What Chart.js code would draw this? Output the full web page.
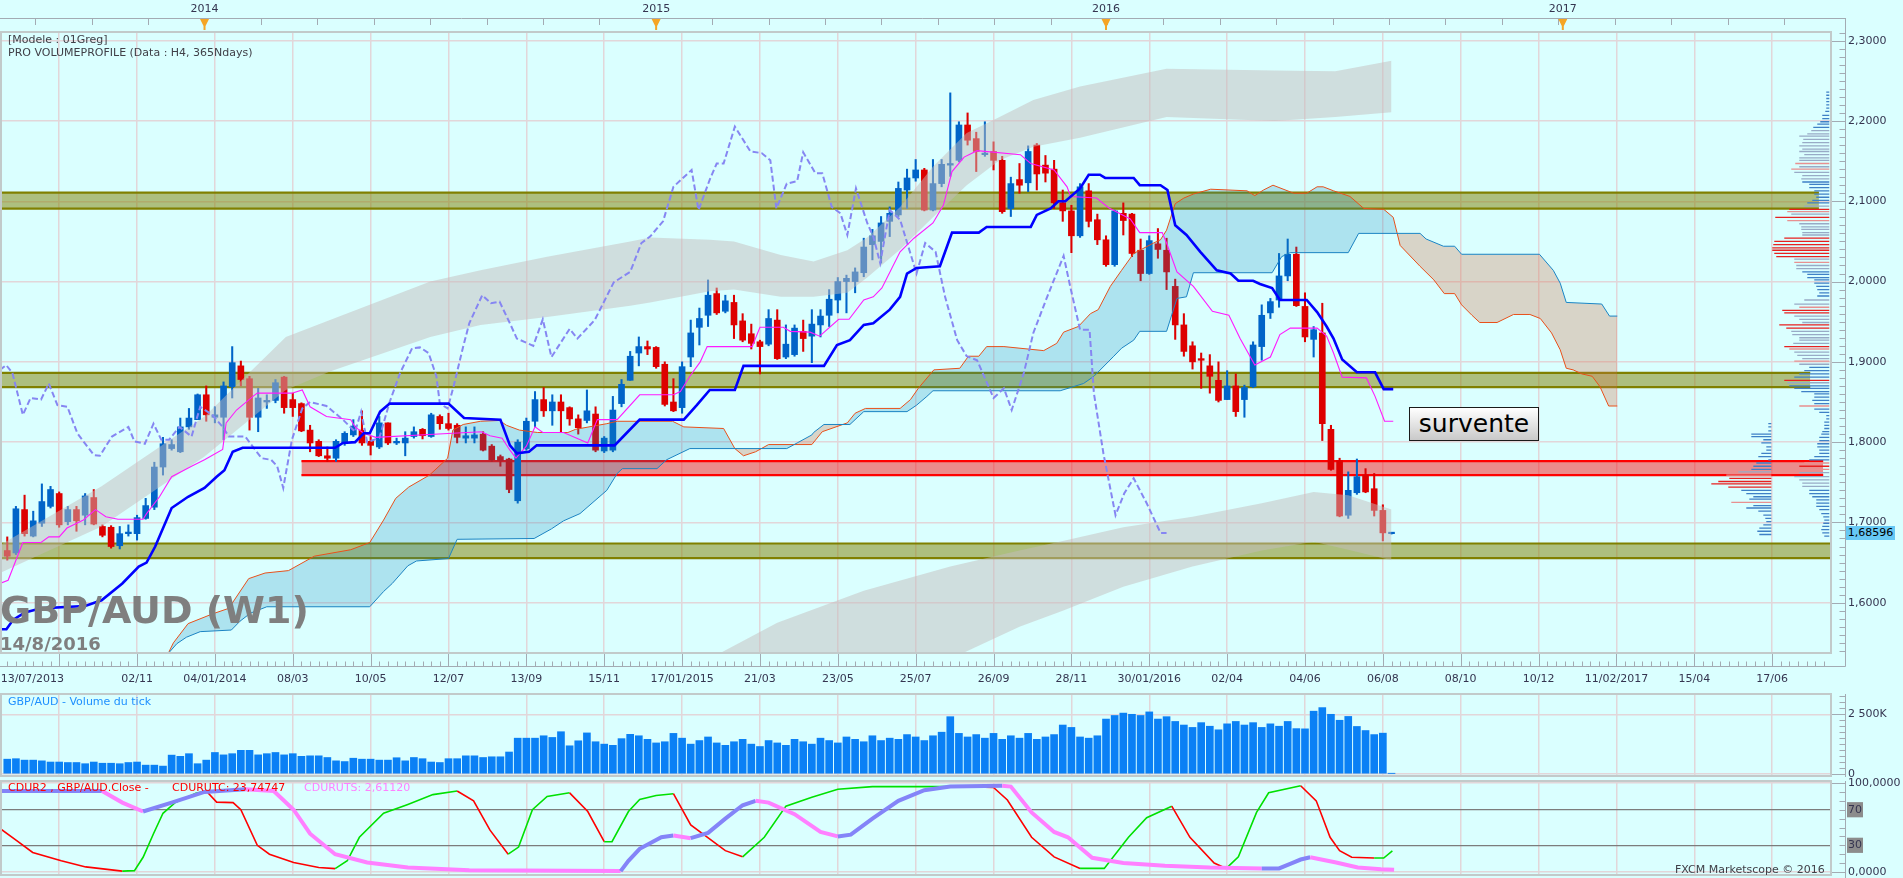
<!DOCTYPE html>
<html lang="fr">
<head>
<meta charset="UTF-8">
<title>GBP/AUD (W1)</title>
<style>
  body { margin: 0; width: 1903px; height: 878px; overflow: hidden; background: #daffff; position: relative; font-family: 'DejaVu Sans', sans-serif; }
  canvas { position: absolute; left: 0; }
  #main { top: 0; }
  #vol { top: 690px; }
  #osc { top: 778px; }
  .lbl { position: absolute; white-space: nowrap; font-size: 11px; line-height: 13px; color: #404048; }
  .pair { position: absolute; left: 0; top: 591px; font-weight: bold; font-size: 38px; line-height: 38px; color: #7f7f7f; white-space: nowrap; }
  .day { position: absolute; left: 0; top: 635px; font-weight: bold; font-size: 18px; line-height: 18px; color: #7f7f7f; }
  .survente { position: absolute; left: 1409px; top: 407px; width: 128px; height: 32px; border: 1px solid #1a1a1a; background: linear-gradient(#ffffff, #c9c9c9); font-size: 25px; line-height: 31px; text-align: center; color: #000; }
  .price { position: absolute; left: 1846px; top: 526px; width: 49px; height: 14px; background: #66c8f5; font-size: 11px; line-height: 14px; text-align: center; color: #000; }
</style>
</head>
<body>
<canvas id="main" width="1903" height="690"></canvas>
<canvas id="vol" width="1903" height="88"></canvas>
<canvas id="osc" width="1903" height="100"></canvas>

<div class="lbl" style="left:8px;top:33px">[Modele : 01Greg]</div>
<div class="lbl" style="left:8px;top:46px">PRO VOLUMEPROFILE (Data : H4, 365Ndays)</div>
<div class="pair">GBP/AUD (W1)</div>
<div class="day">14/8/2016</div>
<div class="survente">survente</div>
<div class="price">1,68596</div>
<div class="lbl" style="left:8px;top:695px;color:#1e90ff">GBP/AUD - Volume du tick</div>
<div class="lbl" style="left:8px;top:781px;color:#ff0000">CDUR2 , GBP/AUD.Close -</div>
<div class="lbl" style="left:172px;top:781px;color:#ff0000">CDURUTC: 23,74747</div>
<div class="lbl" style="left:304px;top:781px;color:#ff80ff">CDURUTS: 2,61120</div>
<div class="lbl" style="left:1675px;top:863px">FXCM Marketscope © 2016</div>

<script src="https://cdn.jsdelivr.net/npm/chart.js"></script>
<script>
// weekly candles, first one is week 1 (week 0 = 13/07/2013)
const FIRST_WEEK = 1;
const opens = [
  1.665,1.662,1.716,1.683,1.699,1.720,1.736,1.701,1.716,1.709,
  1.731,1.695,1.694,1.671,1.686,1.686,1.705,1.719,1.769,1.792,
  1.788,1.819,1.828,1.859,1.831,1.831,1.869,1.895,1.879,1.831,
  1.850,1.852,1.881,1.853,1.848,1.815,1.801,1.783,1.780,1.799,
  1.809,1.815,1.801,1.794,1.824,1.799,1.799,1.807,1.816,1.807,
  1.832,1.823,1.821,1.805,1.805,1.810,1.795,1.782,1.779,1.727,
  1.792,1.826,1.853,1.839,1.850,1.843,1.829,1.827,1.835,1.789,
  1.790,1.848,1.877,1.911,1.919,1.918,1.897,1.850,1.843,1.906,
  1.943,1.958,1.985,1.963,1.974,1.951,1.935,1.925,1.922,1.952,
  1.906,1.909,1.938,1.932,1.946,1.958,1.977,2.000,2.000,2.011,
  2.046,2.050,2.075,2.083,2.114,2.129,2.139,2.089,2.122,2.145,
  2.151,2.195,2.178,2.158,2.162,2.151,2.091,2.127,2.123,2.170,
  2.145,2.140,2.098,2.088,2.057,2.113,2.077,2.052,2.021,2.085,
  2.084,2.039,2.010,2.047,2.039,1.994,1.946,1.920,1.904,1.895,
  1.877,1.853,1.870,1.853,1.869,1.919,1.961,1.977,2.007,2.034,
  1.969,1.928,1.936,1.816,1.777,1.709,1.737,1.759,1.742,1.715,
  1.6860
];
const highs = [
  1.682,1.720,1.734,1.714,1.748,1.745,1.738,1.720,1.720,1.736,
  1.741,1.697,1.696,1.695,1.697,1.709,1.730,1.775,1.806,1.803,
  1.830,1.842,1.860,1.870,1.844,1.875,1.919,1.901,1.882,1.867,
  1.859,1.878,1.882,1.861,1.849,1.821,1.803,1.794,1.803,1.813,
  1.828,1.839,1.807,1.832,1.824,1.805,1.813,1.819,1.817,1.836,
  1.834,1.836,1.823,1.819,1.819,1.813,1.797,1.784,1.780,1.803,
  1.830,1.863,1.868,1.859,1.859,1.844,1.834,1.865,1.844,1.807,
  1.857,1.878,1.913,1.931,1.926,1.919,1.900,1.879,1.900,1.952,
  1.967,2.002,1.992,1.983,1.983,1.960,1.947,1.927,1.965,1.965,
  1.946,1.946,1.952,1.965,1.965,1.990,2.005,2.008,2.017,2.054,
  2.065,2.081,2.093,2.124,2.140,2.152,2.141,2.152,2.152,2.235,
  2.199,2.210,2.186,2.199,2.174,2.156,2.130,2.147,2.169,2.172,
  2.157,2.151,2.114,2.095,2.122,2.122,2.084,2.057,2.089,2.098,
  2.085,2.053,2.057,2.066,2.054,2.003,1.960,1.925,1.911,1.909,
  1.900,1.889,1.885,1.871,1.925,1.971,1.979,2.035,2.053,2.043,
  1.986,1.944,1.973,1.821,1.780,1.763,1.779,1.767,1.761,1.722,
  1.6870
];
const lows = [
  1.653,1.660,1.683,1.682,1.695,1.718,1.694,1.697,1.689,1.697,
  1.697,1.682,1.668,1.667,1.683,1.678,1.704,1.716,1.759,1.790,
  1.787,1.816,1.828,1.826,1.824,1.803,1.855,1.870,1.815,1.813,
  1.842,1.849,1.836,1.832,1.813,1.788,1.782,1.776,1.776,1.796,
  1.807,1.796,1.784,1.792,1.797,1.797,1.783,1.805,1.804,1.806,
  1.816,1.815,1.799,1.799,1.799,1.789,1.776,1.770,1.737,1.724,
  1.790,1.819,1.832,1.821,1.813,1.821,1.810,1.824,1.788,1.787,
  1.788,1.844,1.877,1.895,1.909,1.892,1.845,1.838,1.836,1.894,
  1.921,1.944,1.959,1.961,1.929,1.925,1.916,1.885,1.920,1.903,
  1.904,1.907,1.913,1.899,1.931,1.944,1.961,1.961,1.986,2.006,
  2.027,2.023,2.056,2.081,2.091,2.125,2.088,2.088,2.118,2.131,
  2.149,2.170,2.137,2.156,2.139,2.085,2.081,2.110,2.112,2.114,
  2.124,2.091,2.075,2.036,2.055,2.068,2.046,2.019,2.019,2.058,
  2.031,2.001,2.009,2.029,1.990,1.928,1.907,1.891,1.867,1.861,
  1.850,1.853,1.832,1.831,1.868,1.902,1.954,1.968,2.001,1.969,
  1.925,1.906,1.802,1.765,1.707,1.705,1.735,1.737,1.708,1.677,
  1.6855
];
const closes = [
  1.658,1.717,1.686,1.702,1.726,1.741,1.697,1.716,1.702,1.733,
  1.698,1.684,1.670,1.686,1.688,1.706,1.721,1.769,1.798,1.797,
  1.819,1.830,1.859,1.834,1.834,1.870,1.899,1.878,1.831,1.855,
  1.852,1.874,1.843,1.843,1.814,1.799,1.783,1.780,1.801,1.811,
  1.820,1.799,1.796,1.824,1.799,1.801,1.805,1.813,1.808,1.834,
  1.823,1.817,1.806,1.808,1.809,1.790,1.778,1.777,1.741,1.800,
  1.826,1.853,1.839,1.850,1.839,1.829,1.818,1.839,1.790,1.805,
  1.840,1.872,1.907,1.919,1.916,1.894,1.847,1.839,1.894,1.936,
  1.954,1.983,1.961,1.976,1.946,1.927,1.923,1.919,1.954,1.904,
  1.922,1.942,1.929,1.947,1.957,1.978,2.000,2.004,2.012,2.043,
  2.057,2.073,2.085,2.116,2.129,2.139,2.089,2.122,2.146,2.147,
  2.195,2.176,2.162,2.160,2.151,2.087,2.122,2.120,2.162,2.134,
  2.135,2.098,2.088,2.057,2.118,2.075,2.052,2.021,2.088,2.076,
  2.035,2.010,2.051,2.040,2.012,1.946,1.913,1.900,1.902,1.882,
  1.852,1.870,1.838,1.868,1.921,1.958,1.975,2.007,2.034,1.970,
  1.931,1.940,1.823,1.766,1.708,1.740,1.757,1.738,1.715,1.687,
  1.6862
];
// tick volume, millions
const volumes = [
  0.62,0.64,0.58,0.58,0.55,0.50,0.50,0.48,0.48,0.43,
  0.50,0.45,0.45,0.43,0.48,0.50,0.37,0.37,0.33,0.79,
  0.74,0.85,0.43,0.58,0.90,0.80,0.85,0.99,0.99,0.80,
  0.85,0.90,0.80,0.85,0.74,0.76,0.76,0.69,0.55,0.52,
  0.66,0.62,0.62,0.58,0.58,0.68,0.55,0.69,0.64,0.50,
  0.48,0.64,0.64,0.76,0.76,0.69,0.72,0.72,0.92,1.50,
  1.50,1.50,1.60,1.53,1.77,1.18,1.39,1.72,1.35,1.25,
  1.20,1.48,1.66,1.60,1.45,1.30,1.35,1.70,1.50,1.25,
  1.40,1.55,1.30,1.20,1.35,1.45,1.25,1.15,1.40,1.30,
  1.20,1.45,1.35,1.25,1.50,1.40,1.30,1.55,1.45,1.35,
  1.60,1.40,1.50,1.45,1.65,1.55,1.40,1.60,1.75,2.40,
  1.70,1.55,1.65,1.50,1.70,1.45,1.60,1.50,1.70,1.45,
  1.55,1.65,2.05,1.95,1.55,1.50,1.60,2.30,2.45,2.55,
  2.50,2.45,2.60,2.30,2.40,2.20,2.05,1.95,2.15,2.00,
  1.85,2.10,2.20,2.05,2.15,1.95,2.10,2.00,2.20,1.90,
  1.89,2.63,2.78,2.50,2.25,2.41,1.99,1.82,1.65,1.71,
  0.02
];

// ichimoku lines as [week, price]
const kijun = [[0.16,1.567],[0.9,1.567],[1.7,1.579],[3.05,1.588],[4.9,1.593],[8.25,1.595],[10,1.596],[11.9,1.603],[14.3,1.624],[16.2,1.645],[17.1,1.650],[18.1,1.670],[20,1.718],[21.9,1.732],[23.8,1.743],[25.2,1.757],[26.1,1.765],[27.06,1.788],[28.2,1.793],[38.9,1.793],[39.8,1.799],[41.2,1.800],[42.2,1.811],[42.9,1.811],[44.1,1.838],[45.2,1.848],[52,1.848],[53.8,1.830],[58,1.828],[59.1,1.796],[59.9,1.786],[61.3,1.788],[62.2,1.796],[71.2,1.796],[72.2,1.807],[74.1,1.828],[79.2,1.828],[80.7,1.846],[82.2,1.865],[85.1,1.865],[86.1,1.895],[95.4,1.895],[96.9,1.921],[98.4,1.927],[100,1.946],[101.1,1.948],[103,1.965],[104.2,1.981],[105,2.010],[106.1,2.017],[108.8,2.019],[109.6,2.043],[110.2,2.061],[113.3,2.061],[114.2,2.068],[119.3,2.068],[120,2.083],[121.6,2.091],[122.5,2.100],[123.3,2.100],[125,2.116],[126,2.133],[127.3,2.133],[127.9,2.129],[131.2,2.129],[131.9,2.120],[134.3,2.120],[135.1,2.114],[136,2.070],[137.3,2.058],[138.9,2.037],[140.8,2.014],[142.4,2.010],[143.3,2.001],[145,2.001],[145.8,1.997],[147.2,1.992],[148.1,1.977],[151.2,1.977],[152.4,1.962],[153.5,1.944],[154.3,1.929],[155.3,1.903],[157,1.887],[159.1,1.887],[160.1,1.866],[161.2,1.866]];
const tenkan = [[0.16,1.624],[1.1,1.628],[2,1.653],[2.8,1.675],[4.9,1.675],[5.8,1.682],[7,1.682],[7.9,1.693],[9.8,1.703],[11.2,1.716],[12.4,1.707],[13.8,1.704],[16.7,1.704],[17.1,1.711],[18.6,1.732],[20,1.757],[22.3,1.770],[23.8,1.778],[25.9,1.791],[26.3,1.824],[27.5,1.840],[29.4,1.857],[29.9,1.861],[33.9,1.861],[35.1,1.865],[36,1.844],[37.9,1.832],[40.7,1.828],[41.2,1.819],[42.2,1.811],[43.6,1.806],[52.5,1.811],[55.8,1.813],[56.8,1.808],[58.2,1.805],[59.1,1.790],[59.8,1.780],[61,1.795],[62,1.819],[62.9,1.812],[65.3,1.812],[68.1,1.799],[69.2,1.828],[71.5,1.828],[74.1,1.859],[78,1.859],[78.8,1.863],[79.9,1.882],[81.1,1.900],[81.9,1.919],[87.1,1.919],[88,1.943],[90.7,1.943],[91.5,1.938],[93.8,1.937],[94.9,1.932],[97.1,1.953],[98.3,1.953],[100,1.977],[101.1,1.981],[102.1,1.992],[104.2,2.037],[105.8,2.054],[108,2.073],[109.2,2.095],[110.2,2.137],[111.6,2.155],[113.1,2.163],[118.1,2.158],[119.3,2.147],[122,2.139],[123.5,2.118],[123.9,2.106],[126.9,2.104],[128.3,2.092],[130.8,2.078],[131.9,2.061],[134.5,2.061],[135,2.048],[136.2,2.012],[138.1,1.994],[140.3,1.963],[142.2,1.958],[143.5,1.929],[145.2,1.896],[147,1.906],[148.1,1.934],[149.3,1.942],[152.4,1.942],[153.5,1.932],[154.3,1.911],[155.3,1.881],[158.1,1.880],[159.1,1.857],[160.2,1.826],[161.2,1.826]];
const chikou = [[0.16,1.890],[0.87,1.896],[1.6,1.886],[2.8,1.834],[3.7,1.855],[4.9,1.853],[5.8,1.873],[6.8,1.846],[7.95,1.844],[9.1,1.811],[11,1.784],[11.7,1.783],[13.1,1.807],[15,1.819],[15.7,1.801],[16.9,1.798],[17.9,1.823],[18.8,1.803],[19.7,1.803],[20.9,1.819],[22.3,1.807],[23.3,1.844],[24.7,1.834],[25.9,1.819],[26.6,1.807],[28.5,1.807],[29.4,1.794],[30.4,1.780],[31.5,1.778],[32.2,1.770],[32.9,1.743],[33.9,1.803],[35.1,1.842],[36,1.850],[37.9,1.845],[39.8,1.828],[41.2,1.813],[41.9,1.838],[42.6,1.800],[44,1.805],[45.2,1.850],[46.4,1.886],[47.8,1.917],[48.7,1.918],[49.7,1.911],[50.6,1.882],[51,1.848],[51.9,1.842],[52.6,1.870],[53.7,1.919],[54.4,1.948],[55.9,1.983],[56.9,1.973],[57.9,1.975],[59.1,1.948],[59.9,1.929],[61.8,1.920],[62.9,1.953],[63.9,1.906],[66,1.941],[66.9,1.929],[68.9,1.952],[71.1,1.999],[73,2.012],[74.3,2.048],[75.3,2.056],[76.8,2.075],[78,2.118],[80.1,2.139],[80.9,2.089],[82.2,2.127],[83,2.147],[83.8,2.147],[85.1,2.193],[86.9,2.162],[88.2,2.160],[89.2,2.151],[89.9,2.091],[91.1,2.122],[92.3,2.125],[93,2.161],[94.4,2.135],[95.2,2.135],[96.3,2.093],[97.3,2.085],[98.1,2.058],[99.1,2.116],[100.4,2.073],[101.1,2.056],[101.9,2.023],[103,2.089],[104.2,2.077],[106.1,2.010],[107.1,2.048],[108.3,2.037],[109.4,1.981],[110.8,1.927],[111.9,1.907],[113.1,1.902],[115,1.855],[116.2,1.867],[117.1,1.840],[118.5,1.886],[119.6,1.936],[121.2,1.981],[123.1,2.032],[123.9,1.992],[125,1.940],[126.1,1.940],[126.6,1.861],[127.7,1.786],[129.1,1.709],[130.1,1.736],[131.2,1.755],[132.7,1.724],[134.3,1.687],[135,1.687]];
const senkouA = [[18.5,1.515],[19.7,1.539],[20.2,1.550],[21.9,1.574],[24.7,1.586],[26.6,1.593],[28.9,1.630],[30.8,1.637],[33.5,1.640],[36.5,1.658],[40.7,1.666],[42.9,1.675],[44.5,1.703],[45.9,1.730],[47.4,1.744],[49.8,1.759],[51.9,1.780],[52.5,1.815],[53.7,1.822],[55.7,1.826],[57.9,1.827],[58.7,1.821],[60.2,1.815],[62.3,1.812],[65.8,1.812],[66.7,1.816],[70.3,1.823],[71.5,1.826],[77.9,1.826],[79.2,1.819],[83.8,1.817],[85.1,1.792],[86.1,1.783],[87.5,1.788],[89,1.797],[94,1.797],[95.2,1.813],[98.1,1.824],[99,1.836],[100.2,1.842],[104.2,1.842],[105.4,1.853],[106.3,1.867],[108.1,1.890],[111.1,1.892],[112.1,1.907],[113.3,1.907],[114.2,1.919],[116.2,1.919],[120.8,1.914],[122.3,1.923],[123.1,1.937],[124.8,1.944],[126.2,1.960],[127.1,1.965],[128.5,1.994],[129.8,2.014],[131.2,2.035],[133.5,2.048],[134.3,2.052],[135,2.064],[136,2.097],[137,2.104],[138.1,2.109],[140.1,2.115],[144.3,2.113],[145.2,2.107],[146.2,2.114],[147.3,2.120],[149.7,2.110],[151.2,2.110],[152.4,2.118],[153.1,2.118],[154.3,2.113],[156.2,2.106],[157.8,2.091],[160.1,2.090],[161.2,2.080],[162,2.045],[164.3,2.019],[165.9,2.002],[167.1,1.985],[168.3,1.985],[169.1,1.971],[170.3,1.958],[171.2,1.949],[173.2,1.949],[175.1,1.959],[177,1.959],[178.2,1.954],[179.5,1.936],[180.5,1.915],[181.2,1.892],[182,1.890],[183,1.885],[184.2,1.882],[185.1,1.869],[186.1,1.845],[187.1,1.845]];
const senkouB = [[18.5,1.515],[19.7,1.538],[20.6,1.549],[21.7,1.557],[23.3,1.564],[26.9,1.566],[27.9,1.577],[29.1,1.587],[31,1.595],[42.9,1.595],[44.5,1.614],[45.5,1.624],[47.3,1.646],[48.3,1.652],[52,1.655],[53,1.679],[61.9,1.680],[63.9,1.692],[65.3,1.702],[67.2,1.711],[70.3,1.740],[71.5,1.761],[72.1,1.767],[76.1,1.767],[77.2,1.778],[79.9,1.792],[91.1,1.792],[92.3,1.799],[94,1.809],[94.2,1.812],[95.4,1.822],[98.4,1.822],[100,1.838],[105,1.838],[106.1,1.846],[107.3,1.857],[108,1.864],[122.7,1.864],[125.4,1.873],[126.6,1.882],[128.9,1.907],[129.8,1.917],[131.2,1.927],[131.9,1.938],[135,1.938],[136.2,1.979],[137.3,1.981],[138.1,2.011],[147.2,2.011],[148.3,2.031],[149.3,2.036],[156,2.036],[157.2,2.060],[164.3,2.060],[165,2.053],[167,2.044],[168.3,2.044],[169.1,2.034],[178.1,2.034],[179.7,2.014],[180.5,1.998],[181.2,1.974],[185.3,1.972],[186.2,1.957],[187.1,1.957]];

// grey envelopes: weeks, upper edge, lower edge
const bandWeeks = [0.16,11.9,23.8,33.2,38.3,49.9,55.7,63.4,73,75.3,82.2,85,90.4,94.2,98.1,100.4,104.2,108,111.9,115.7,119.6,125,135,147.5,154.5,161];
const bandTop   = [1.672,1.745,1.832,1.931,1.952,2.000,2.014,2.031,2.050,2.055,2.052,2.050,2.033,2.025,2.039,2.055,2.093,2.143,2.185,2.205,2.226,2.243,2.265,2.263,2.262,2.275];
const bandBot   = [1.637,1.695,1.782,1.865,1.888,1.931,1.946,1.956,1.970,1.974,1.988,1.990,1.981,1.981,1.986,2.005,2.040,2.080,2.120,2.151,2.168,2.179,2.205,2.200,2.205,2.211];
const lowBandWeeks = [83,90,100,110,118,123,130,138,146,152,156,161];
const lowBandTop   = [1.535,1.575,1.615,1.645,1.665,1.677,1.694,1.707,1.724,1.738,1.734,1.716];
const lowBandBot   = [1.400,1.440,1.490,1.530,1.570,1.590,1.620,1.645,1.665,1.676,1.666,1.653];

// support / resistance zones
const zoneLow  = [2.0909, 1.8685, 1.6555, 1.7589];
const zoneHigh = [2.1108, 1.8863, 1.6738, 1.7763];
const zoneFrom = [0.16, 0.16, 0.16, 35];
const zoneTo   = [210.4, 209.4, 211.7, 210.9];
const zoneKind = ['olive', 'olive', 'olive', 'red'];

// volume profiles (price level, volume, tone b/g/r/p)
const profileLevels = [
  2.236,2.232,2.228,2.224,2.220,2.216,2.212,2.207,2.203,2.199,2.196,2.192,
  2.188,2.184,2.181,2.177,2.173,2.169,2.165,2.162,2.158,2.154,2.151,
  2.147,2.143,2.140,2.136,2.132,2.128,
  2.124,2.121,2.117,2.113,2.109,2.105,2.101,2.098,
  2.094,2.090,2.087,2.084,2.080,2.076,
  2.072,2.068,2.065,2.061,2.058,
  2.054,2.050,2.046,2.042,2.039,2.035,2.031,
  2.028,2.024,2.020,2.016,
  2.012,2.009,2.005,2.002,1.998,1.994,1.990,1.986,1.982,
  1.977,1.972,1.968,1.964,1.961,1.957,1.953,1.949,1.946,1.942,
  1.938,1.934,1.930,1.927,1.923,
  1.919,1.916,1.912,1.908,1.904,1.901,1.897,
  1.893,1.889,1.885,1.881,
  1.877,1.874,
  1.870,1.867,1.863,1.860,1.856,1.852,1.848,
  1.845,
  1.841,1.837,1.833,1.829,1.825,1.821,1.817,1.813,1.810,1.806,1.802,1.798,1.794,1.790,1.786,1.782,1.778,
  1.774,1.770,1.766,1.762,1.757,1.753,1.749,1.745,
  1.740,1.736,1.732,1.728,1.724,1.720,1.716,1.711,1.707,1.703,1.699,1.695,1.691,1.687,1.683
];
const profileVolumes = [
  3,3,3,3,3,3,4,7,7,9,12,16,
  18,22,30,26,27,30,27,30,25,30,30,
  34,30,38,35,27,28,
  27,20,20,15,15,13,17,22,
  25,40,42,38,54,42,
  30,28,28,27,27,
  45,55,56,57,57,55,53,
  35,35,33,33,
  27,22,22,15,15,13,12,10,12,
  25,35,30,47,45,35,30,27,50,43,
  38,37,30,30,36,
  45,40,35,32,27,35,30,
  20,25,30,35,
  45,42,
  40,35,28,15,15,17,15,
  30,
  15,10,3,3,5,5,5,7,8,10,10,12,12,10,10,15,20,
  25,30,27,30,35,30,27,27,
  20,20,17,13,13,13,10,8,6,5,6,7,8,7,5
];
const profileTones =
  'bbbbbbbbbbbb' + 'ggggggggggg' + 'pgpggg' + 'bbbbbbbb' + 'grpgrp' + 'ggggg' + 'rrrrrrr' +
  'gpgg' + 'bbbbbbbbb' + 'ggprrgggrr' + 'ggggg' + 'rpgggpg' + 'bbbb' + 'rg' + 'bbbbbbb' + 'p' +
  'bbbbbbbbbbbbbbbbb' + 'prpggggg' + 'bbbbbbbbbbbbbbb';
const profile2Levels = [1.823,1.819,1.814,1.810,1.807,1.803,1.799,1.794,1.790,1.786,1.782,1.778,1.774,1.770,1.766,1.763,1.759,1.755,1.751,1.748,1.744,1.740,1.736,1.732,1.729,1.725,1.721,1.718,1.714,1.709,1.705,1.701,1.697,1.693,1.689,1.685];
const profile2Volumes = [3,3,3,20,20,8,10,5,5,10,13,3,15,18,20,33,45,42,53,60,43,30,25,18,22,40,18,25,13,8,6,5,8,12,14,12];
const profile2Tones = 'bbbbbbbbbbbbbbb' + 'gp' + 'rrrr' + 'bbbb' + 'p' + 'bbbbbbbbbb';
const profileEnds = [211.6, 204.9];

// oscillator: fast (red/green) and slow (pink/lavender) lines, [week, value]
const oscFast = [[0.16,49],[2.05,35.6],[3.94,22],[7.24,12.6],[10.07,5.7],[14.3,1],[15.7,1.5],[16.7,16.5],[17.9,43],[19,66],[20.4,78],[22.8,88.5],[24,91],[25.2,78.5],[27.1,78],[28,70],[29.9,30],[31.3,20],[34.1,10.7],[37,5],[38.9,3.8],[40.3,12.6],[41.7,39],[44.5,66],[47.3,76],[50.2,87],[53,91],[54.9,80],[56.8,47],[58.9,20],[60.1,28],[61.7,70],[63.4,85],[66,89],[68.1,68],[70,34],[70.9,34],[72.8,68],[74.1,81.6],[76,86],[78,88],[80,53],[84,24],[86,17],[88.5,39],[91,74],[94,84],[97,93],[101,96],[107,96],[112,96],[115,95],[116.6,81],[119.4,39],[122,17],[125,4],[127.8,4],[130.6,39],[132.7,61],[135.6,74],[137.7,39],[140.5,10],[141.9,4],[143.3,17],[145.4,67],[146.8,89],[150.5,97],[152.3,80],[153,62],[153.9,39],[155,24],[156.4,16.5],[159,15.7],[160.1,15.7],[161.1,23.7]];
const oscSlow = [[0.16,91],[11.96,91],[14.3,78],[16.7,68],[20,78],[23.8,90],[28.5,93],[31.8,91],[34.1,70],[36,43],[38.9,20],[42.6,10.7],[47.3,5],[54.4,2],[71.9,1],[72.8,12.6],[74.1,26],[76.6,39],[78,41],[80,38],[82,44],[84,60],[86,75],[87.5,80],[89,78],[92,65],[95,45],[97,40],[98.5,42],[101,60],[104,80],[107,92],[110,96],[116,97],[117,96],[119.4,67],[122,45],[123.6,39],[126.4,16],[130,10],[134.8,7],[140,5],[146,4],[148,4],[149.5,10],[150.5,14],[151.6,16.5],[154.6,10.7],[157.1,5],[159.8,3.2],[161.3,2.6]];

// axes
const dateTickWeeks = [3.9,7,16,25,34,43,52,61,70,79,88,97,106,115,124,133,142,151,160,169,178,187,196,205];
const dateTickLabels = ['13/07/2013','','02/11','04/01/2014','08/03','10/05','12/07','13/09','15/11','17/01/2015','21/03','23/05','25/07','26/09','28/11','30/01/2016','02/04','04/06','06/08','08/10','10/12','11/02/2017','15/04','17/06'];
const LABEL_ONLY_WEEK = 3.9;
const yearTickWeeks = [23.8, 76.0, 128.0, 180.8];
const yearLabels = ['2014', '2015', '2016', '2017'];
const priceTicks = [1.6, 1.7, 1.8, 1.9, 2.0, 2.1, 2.2, 2.3];
const volumeTicks = [0, 2.5];
const oscTicks = [0, 30, 70, 100];

const X_MIN = 0.16, X_MAX = 211.8;
const Y_MIN = 1.5374, Y_MAX = 2.3108;
const TOP_TICK_START = 4.24, TOP_TICK_STEP = 6.52;
const GRID = '#e2d6d9';
const TEXT = '#353550';
const UP = '#0064c8', DOWN = '#dd0000';

Chart.defaults.font.family = "'DejaVu Sans', sans-serif";
Chart.defaults.font.size = 11;
Chart.defaults.color = TEXT;

const pts = arr => arr.map(p => ({x: p[0], y: p[1]}));
const comma = (v, d) => v.toFixed(d).replace('.', ',');

// frame, right axis line with minor ticks, time axis decorations
const decor = {
  id: 'decor',
  afterDraw(chart, args, o) {
    const {ctx, chartArea: a, scales} = chart;
    const xs = scales.x, ys = scales.y;
    const ax = a.right + 14.5;
    ctx.save();
    ctx.lineWidth = 1;
    ctx.strokeStyle = '#a3abb3';
    ctx.beginPath(); ctx.moveTo(ax, o.axisTop); ctx.lineTo(ax, a.bottom + o.axisBelow); ctx.stroke();
    const ratio = Math.round(o.major / o.minor);
    for (let k = Math.ceil(ys.min / o.minor); k * o.minor <= ys.max; k++) {
      const py = Math.round(ys.getPixelForValue(k * o.minor)) + 0.5;
      ctx.beginPath(); ctx.moveTo(k % ratio === 0 ? a.right : ax - 6, py); ctx.lineTo(ax, py); ctx.stroke();
    }
    if (o.timeAxis) {
      const base = a.bottom + 13.5;
      ctx.beginPath(); ctx.moveTo(0, base); ctx.lineTo(ax, base); ctx.stroke();
      for (let w = Math.ceil(xs.min); w <= xs.max; w++) {
        const px = Math.round(xs.getPixelForValue(w)) + 0.5;
        ctx.beginPath(); ctx.moveTo(px, base - 5); ctx.lineTo(px, base); ctx.stroke();
      }
      dateTickWeeks.forEach(w => {
        if (w === LABEL_ONLY_WEEK) return;
        const px = Math.round(xs.getPixelForValue(w)) + 0.5;
        ctx.beginPath(); ctx.moveTo(px, a.bottom); ctx.lineTo(px, base); ctx.stroke();
      });
      ctx.beginPath(); ctx.moveTo(0, 18.5); ctx.lineTo(ax, 18.5); ctx.stroke();
      for (let k = 0; TOP_TICK_START + k * TOP_TICK_STEP <= xs.max; k++) {
        const px = Math.round(xs.getPixelForValue(TOP_TICK_START + k * TOP_TICK_STEP)) + 0.5;
        ctx.beginPath(); ctx.moveTo(px, 18.5); ctx.lineTo(px, 25); ctx.stroke();
      }
      ctx.fillStyle = '#f5a524';
      yearTickWeeks.forEach(w => {
        const px = xs.getPixelForValue(w);
        ctx.beginPath();
        ctx.moveTo(px - 4.5, 19); ctx.lineTo(px + 4.5, 19); ctx.lineTo(px + 1, 26);
        ctx.lineTo(px + 1, 30); ctx.lineTo(px - 1, 30); ctx.lineTo(px - 1, 26);
        ctx.closePath(); ctx.fill();
      });
    }
    ctx.strokeStyle = '#c2caca'; ctx.lineWidth = 2;
    ctx.strokeRect(a.left + 1, a.top, a.right - a.left - 1, a.bottom - a.top);
    ctx.restore();
  }
};

function timeScale(showLabels, height) {
  return {
    type: 'linear', position: 'bottom', min: X_MIN, max: X_MAX, offset: false,
    afterBuildTicks: s => { s.ticks = dateTickWeeks.map(v => ({value: v})); },
    afterFit: s => { s.height = height; s.paddingLeft = 0; s.paddingRight = 0; },
    ticks: { display: showLabels, autoSkip: false, maxRotation: 0, minRotation: 0, padding: 20, color: TEXT,
             callback: (v, i) => dateTickLabels[i] },
    grid: { color: c => (c.tick && c.tick.value === LABEL_ONLY_WEEK) ? 'rgba(0,0,0,0)' : GRID,
            lineWidth: 1.5, drawTicks: false, offset: false },
    border: { display: false }
  };
}
// right-hand value axis: fixed width, no label overflow padding
const fitRight = s => { s.width = 72; s.paddingTop = 0; s.paddingBottom = 0; };

// ---------- main price panel ----------
const ds = [];
const line = (data, extra) => Object.assign({type: 'line', data, pointRadius: 0, borderWidth: 1, tension: 0}, extra);

zoneLow.forEach((lo, k) => {
  const edge = zoneKind[k] === 'red' ? '#ff0000' : '#808000';
  const body = zoneKind[k] === 'red' ? 'rgba(255,0,0,0.45)' : 'rgba(128,128,0,0.5)';
  ds.push(line([{x: zoneFrom[k], y: zoneHigh[k]}, {x: zoneTo[k], y: zoneHigh[k]}], {borderColor: edge, borderWidth: 2.2, order: 20}));
  ds.push(line([{x: zoneFrom[k], y: lo}, {x: zoneTo[k], y: lo}], {borderColor: edge, borderWidth: 2.2, fill: '-1', backgroundColor: body, order: 20}));
});

const candleColor = c => closes[c.dataIndex] >= opens[c.dataIndex] ? UP : DOWN;
ds.push({type: 'bar', data: opens.map((o, i) => ({x: FIRST_WEEK + i, y: [lows[i], highs[i]]})),
  backgroundColor: candleColor, barThickness: 1.4, grouped: false, order: 9});
ds.push({type: 'bar', data: opens.map((o, i) => ({x: FIRST_WEEK + i, y: [Math.min(o, closes[i]), Math.max(o, closes[i])]})),
  backgroundColor: candleColor, barThickness: 6, minBarLength: 1.5, grouped: false, order: 8});

// kumo
const bIndex = ds.length;
ds.push(line(pts(senkouB), {borderColor: '#1a84c4', order: 6}));
ds.push(line(pts(senkouA), {borderColor: '#e8501a', order: 6,
  fill: {target: bIndex, above: 'rgba(25,136,185,0.23)', below: 'rgba(211,112,72,0.3)'}}));

// grey envelopes
const GREY = 'rgba(196,188,188,0.49)';
ds.push(line(bandWeeks.map((w, i) => ({x: w, y: bandTop[i]})), {borderWidth: 0, order: 5}));
ds.push(line(bandWeeks.map((w, i) => ({x: w, y: bandBot[i]})), {borderWidth: 0, fill: '-1', backgroundColor: GREY, order: 5}));
ds.push(line(lowBandWeeks.map((w, i) => ({x: w, y: lowBandTop[i]})), {borderWidth: 0, order: 5}));
ds.push(line(lowBandWeeks.map((w, i) => ({x: w, y: lowBandBot[i]})), {borderWidth: 0, fill: '-1', backgroundColor: GREY, order: 5}));

// volume profiles: one short horizontal segment per price level, gaps between them
const PROFILE_UNIT = 1 / 8.65;
const toneColors = {b: '#3f80c6', g: '#98aac6', r: '#e82020', p: '#e89090'};
Object.keys(toneColors).forEach(t => {
  const data = [];
  [[profileLevels, profileVolumes, profileTones], [profile2Levels, profile2Volumes, profile2Tones]].forEach((p, k) => {
    p[0].forEach((lvl, i) => {
      if (p[2][i] !== t) return;
      data.push({x: profileEnds[k] - p[1][i] * PROFILE_UNIT, y: lvl}, {x: profileEnds[k], y: lvl}, {x: profileEnds[k] + 0.01, y: null});
    });
  });
  ds.push(line(data, {borderColor: toneColors[t], borderWidth: 1.3, spanGaps: false, order: 4}));
});

ds.push(line(pts(chikou), {borderColor: '#8686f2', borderWidth: 2, borderDash: [6, 3], order: 3}));
ds.push(line(pts(tenkan), {borderColor: '#ff1aff', borderWidth: 1.1, order: 2}));
ds.push(line(pts(kijun), {borderColor: '#0000ff', borderWidth: 2.6, order: 1}));

new Chart(document.getElementById('main'), {
  type: 'bar',
  data: {datasets: ds},
  plugins: [decor],
  options: {
    responsive: false, animation: false,
    layout: {padding: 0, autoPadding: false},
    plugins: {legend: {display: false}, tooltip: {enabled: false},
      decor: {axisTop: 18, axisBelow: 13.5, minor: 0.01, major: 0.1, timeAxis: true}},
    scales: {
      x: timeScale(true, 37),
      xTop: {
        type: 'linear', position: 'top', min: X_MIN, max: X_MAX, offset: false,
        afterBuildTicks: s => { s.ticks = yearTickWeeks.map(v => ({value: v})); },
        afterFit: s => { s.height = 32; s.paddingLeft = 0; s.paddingRight = 0; },
        ticks: {autoSkip: false, maxRotation: 0, padding: 8, color: TEXT, callback: (v, i) => yearLabels[i]},
        grid: {display: false}, border: {display: false}
      },
      y: {
        position: 'right', min: Y_MIN, max: Y_MAX,
        afterBuildTicks: s => { s.ticks = priceTicks.map(v => ({value: v})); },
        afterFit: fitRight,
        ticks: {padding: 17, color: TEXT, callback: v => comma(v, 4)},
        grid: {color: GRID, lineWidth: 1.5, drawTicks: false},
        border: {display: false}
      }
    }
  }
});

// ---------- tick volume ----------
new Chart(document.getElementById('vol'), {
  type: 'bar',
  data: {datasets: [{data: volumes.map((v, i) => ({x: FIRST_WEEK + i, y: v})),
    backgroundColor: '#0a80f5', barThickness: 7, grouped: false}]},
  plugins: [decor],
  options: {
    responsive: false, animation: false,
    layout: {padding: {top: 4}, autoPadding: false},
    plugins: {legend: {display: false}, tooltip: {enabled: false},
      decor: {axisTop: 4, axisBelow: 1, minor: 0.25, major: 2.5, timeAxis: false}},
    scales: {
      x: timeScale(false, 2),
      y: {
        position: 'right', min: -0.085, max: 3.35,
        afterBuildTicks: s => { s.ticks = volumeTicks.map(v => ({value: v})); },
        afterFit: fitRight,
        ticks: {padding: 17, color: TEXT, callback: v => v === 0 ? '0' : '2 500K'},
        grid: {color: GRID, lineWidth: 1.5, drawTicks: false},
        border: {display: false}
      }
    }
  }
});

// ---------- oscillator ----------
new Chart(document.getElementById('osc'), {
  type: 'line',
  data: {datasets: [
    {data: pts(oscSlow), borderWidth: 4, pointRadius: 0, tension: 0,
     segment: {borderColor: c => c.p1.parsed.y >= c.p0.parsed.y ? '#8484f8' : '#ff80ff'}},
    {data: pts(oscFast), borderWidth: 1.6, pointRadius: 0, tension: 0,
     segment: {borderColor: c => c.p1.parsed.y >= c.p0.parsed.y ? '#00e000' : '#ff0000'}}
  ]},
  plugins: [decor],
  options: {
    responsive: false, animation: false,
    layout: {padding: {top: 3}, autoPadding: false},
    plugins: {legend: {display: false}, tooltip: {enabled: false},
      decor: {axisTop: 3, axisBelow: 4, minor: 10, major: 100, timeAxis: false}},
    scales: {
      x: timeScale(false, 3),
      y: {
        position: 'right', min: -3.4, max: 102.3,
        afterBuildTicks: s => { s.ticks = oscTicks.map(v => ({value: v})); },
        afterFit: fitRight,
        ticks: {padding: 17, color: TEXT,
          callback: v => (v === 30 || v === 70) ? String(v) : comma(v, 4),
          showLabelBackdrop: c => !!(c.tick && (c.tick.value === 30 || c.tick.value === 70)),
          backdropColor: '#8c8c8c', backdropPadding: 1},
        grid: {color: c => c.tick && (c.tick.value === 30 || c.tick.value === 70) ? '#7c7c7c' : GRID,
               lineWidth: c => c.tick && (c.tick.value === 30 || c.tick.value === 70) ? 1.2 : 1.5, drawTicks: false},
        border: {display: false}
      }
    }
  }
});
</script>
</body>
</html>
